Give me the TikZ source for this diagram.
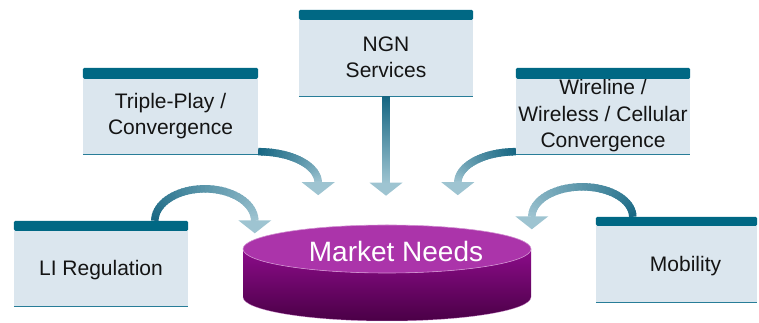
\documentclass[tikz,border=0pt]{standalone}
\usepackage{fontspec}
\setmainfont{Liberation Sans}
\usetikzlibrary{calc}
\definecolor{boxfill}{RGB}{219,230,238}
\definecolor{barcol}{RGB}{0,104,132}
\definecolor{linecol}{RGB}{40,125,152}
\definecolor{adark}{RGB}{22,102,130}
\definecolor{alight}{RGB}{158,196,209}
\definecolor{cyltop}{RGB}{171,52,170}
\definecolor{cylsidetop}{RGB}{140,12,138}
\definecolor{cylsidebot}{RGB}{74,0,70}
\tikzset{
  mbox/.style={fill=boxfill, inner sep=0pt, align=center,
    font=\fontsize{21}{26.5}\selectfont, text=black!92},
  arrowhead/.style={fill=alight},
}
% bar on top and thin line at bottom of a box node
\newcommand\boxdeco[2]{%
  \fill[barcol, rounded corners=1.5pt] ($(#1.north west)+(0,-1)$) -- ++(0,#2+1) -| ($(#1.north east)+(0,-1)$) -- cycle;
  \draw[linecol, line width=1.3pt] (#1.south west) -- (#1.south east);
}
% gradient arc: start coord, x radius, y radius, start angle, end angle, steps
\newcommand\gradarc[6]{%
  \foreach \k in {1,...,#6}{%
    \pgfmathsetmacro\aa{#4+(#5-#4)*(\k-1)/#6}%
    \pgfmathsetmacro\ab{#4+(#5-#4)*min(\k+0.4,#6)/#6}%
    \pgfmathtruncatemacro\pc{100-100*(\k-0.5)/#6}%
    \draw[line width=7.5pt, color=adark!\pc!alight]
      ($(#1)+({#2*(cos(\aa)-cos(#4))},{#3*(sin(\aa)-sin(#4))})$)
      arc[start angle=\aa, end angle=\ab, x radius=#2pt, y radius=#3pt];
  }%
}
\newcommand\headat[1]{%
  \fill[arrowhead] ($(#1)+(-16.5,0.5)$) -- ($(#1)+(16.5,0.5)$) -- ($(#1)+(0,-12.5)$) -- cycle;
}
\begin{document}
\begin{tikzpicture}[x=1pt,y=1pt]
\useasboundingbox (0,0) rectangle (759,323);

% boxes
\node[mbox, minimum width=174pt, minimum height=76pt] (li) at (101,55) {\raisebox{-2.5pt}[\height][\depth]{LI Regulation}};
\node[mbox, minimum width=175pt, minimum height=76pt] (tp) at (170.5,207) {Triple-Play /\\Convergence};
\node[mbox, minimum width=174pt, minimum height=77pt] (ngn) at (386,265.5) {NGN\\Services};
\node[mbox, minimum width=174pt, minimum height=76pt] (wl) at (603,207) {Wireline /\\Wireless / Cellular\\Convergence};
\node[mbox, minimum width=161pt, minimum height=77pt] (mob) at (676.5,59.5) {\hspace*{18pt}\raisebox{-3pt}[\height][\depth]{Mobility}};
\boxdeco{li}{9}
\boxdeco{tp}{10}
\boxdeco{ngn}{9}
\boxdeco{wl}{10}
\boxdeco{mob}{8}

% cylinder
\coordinate (cc) at (387,74);
\shade[top color=cylsidetop, bottom color=cylsidebot]
  ($(cc)+(-144,0)$) -- ($(cc)+(-144,-48)$)
  arc[start angle=180, end angle=360, x radius=144pt, y radius=24pt]
  -- ($(cc)+(144,0)$)
  arc[start angle=0, end angle=-180, x radius=144pt, y radius=24pt] -- cycle;
\draw[cyltop!60!white, line width=0.5pt, opacity=0.6]
  ($(cc)+(-144,-48)$) arc[start angle=180, end angle=360, x radius=144pt, y radius=24pt];
\fill[cyltop] (cc) ellipse[x radius=144pt, y radius=24pt];
\draw[cyltop!55!white, line width=0.6pt] (cc) ellipse[x radius=144pt, y radius=24pt];
\node[anchor=base, font=\fontsize{28}{30}\selectfont, text=white] (mkt) at (396,61) {Market Needs};

% arrows
\coordinate (lis) at ($(li.north west)+(141,9)$);
\gradarc{lis}{50}{32}{180}{0}{40}
\coordinate (lie) at ($(lis)+(100,0)$);
\headat{lie}

\coordinate (tps) at ($(tp.south east)+(0,2.5)$);
\gradarc{tps}{60}{31}{90}{0}{30}
\coordinate (tpe) at ($(tps)+(60,-31)$);
\headat{tpe}

\coordinate (ngne) at ($(ngn.south)+(0,-87)$);
\shade[top color=adark, bottom color=alight] ($(ngn.south)+(-3.75,-0.7)$) rectangle ($(ngne)+(3.75,0)$);
\headat{ngne}

\coordinate (wls) at ($(wl.south west)+(0,2.5)$);
\gradarc{wls}{58}{31}{90}{180}{30}
\coordinate (wle) at ($(wls)+(-58,-31)$);
\headat{wle}

\coordinate (mobs) at ($(mob.north west)+(37,8)$);
\gradarc{mobs}{50.5}{30}{0}{180}{40}
\coordinate (mobe) at ($(mobs)+(-101,0)$);
\headat{mobe}
\end{tikzpicture}
\end{document}
